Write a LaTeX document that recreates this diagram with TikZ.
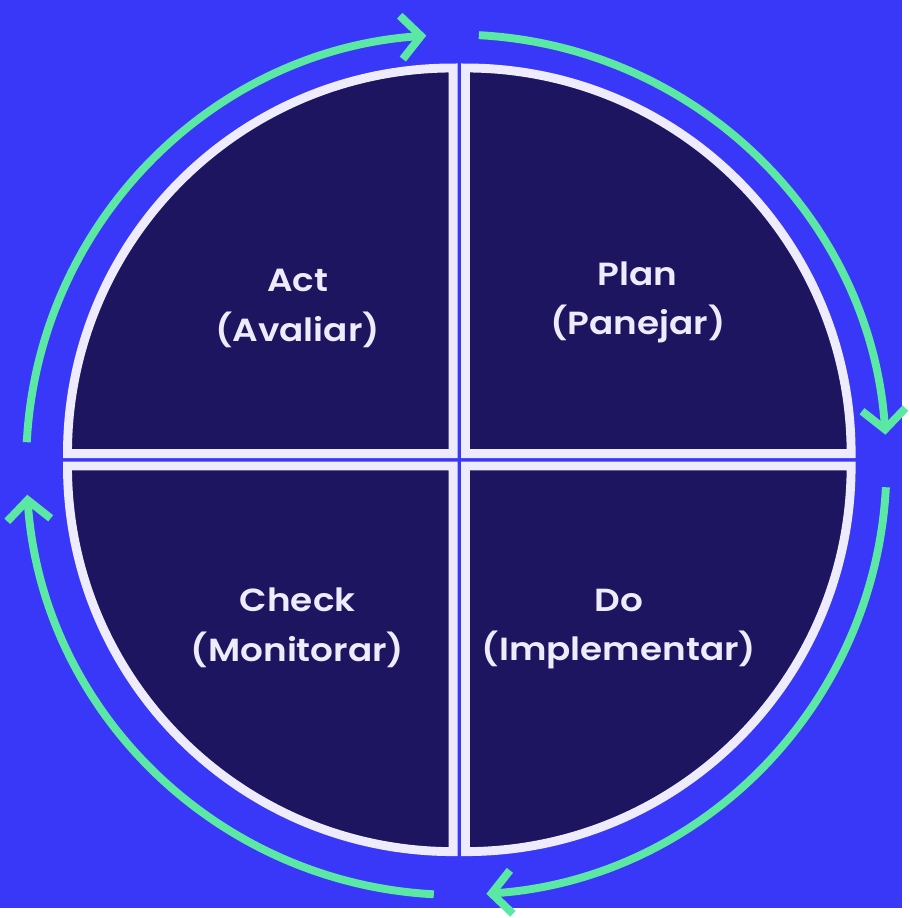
\documentclass[tikz,border=0pt]{standalone}
\usepackage{xcolor}
\usepackage{tikz}
\usetikzlibrary{arrows.meta}
\usepackage{fontspec}
\newfontfamily\pdcafont{Poppins}[FakeStretch=1.12, BoldFont={Poppins SemiBold}]

\definecolor{bgblue}{RGB}{58,56,248}
\definecolor{quadnavy}{RGB}{30,21,96}
\definecolor{rimwhite}{RGB}{238,236,252}
\definecolor{loopgreen}{RGB}{90,232,164}

\begin{document}
\begin{tikzpicture}[
    quad/.style={fill=quadnavy, draw=rimwhite, line width=0.09cm, line join=miter},
    cycarrow/.style={draw=loopgreen, line width=0.08cm,
        -{Straight Barb[length=0.2cm, width=0.44cm]}},
    pdcalabel/.style={text=rimwhite, align=center,
        font={\pdcafont\bfseries\fontsize{9.2}{14.2}\selectfont}}]
    \fill[bgblue] (-4.645,-4.53) rectangle (4.475,4.65);
    % quadrants
    \draw[quad] (0.0625,0.0625) -- ++(0,3.9) arc (90:0:3.9) -- cycle;      % Plan
    \draw[quad] (-0.0625,0.0625) -- ++(0,3.9) arc (90:180:3.9) -- cycle;   % Act
    \draw[quad] (-0.0625,-0.0625) -- ++(0,-3.9) arc (270:180:3.9) -- cycle; % Check
    \draw[quad] (0.0625,-0.0625) -- ++(0,-3.9) arc (270:360:3.9) -- cycle; % Do
    % cycle arrows
    \foreach \a in {87,-3,-93,-183}
        \draw[cycarrow] ([shift={(-0.03,-0.05)}]\a:4.35) arc (\a:\a-83:4.35);
    \node[pdcalabel] (act) at (-1.635,1.53) {Act\\(Avaliar)};
    \node[pdcalabel] (plan) at (1.805,1.59) {Plan\\(Panejar)};
    \node[pdcalabel] (check) at (-1.635,-1.7) {Check\\(Monitorar)};
    \node[pdcalabel] (do) at (1.615,-1.71) {Do\\(Implementar)};
\end{tikzpicture}
\end{document}
